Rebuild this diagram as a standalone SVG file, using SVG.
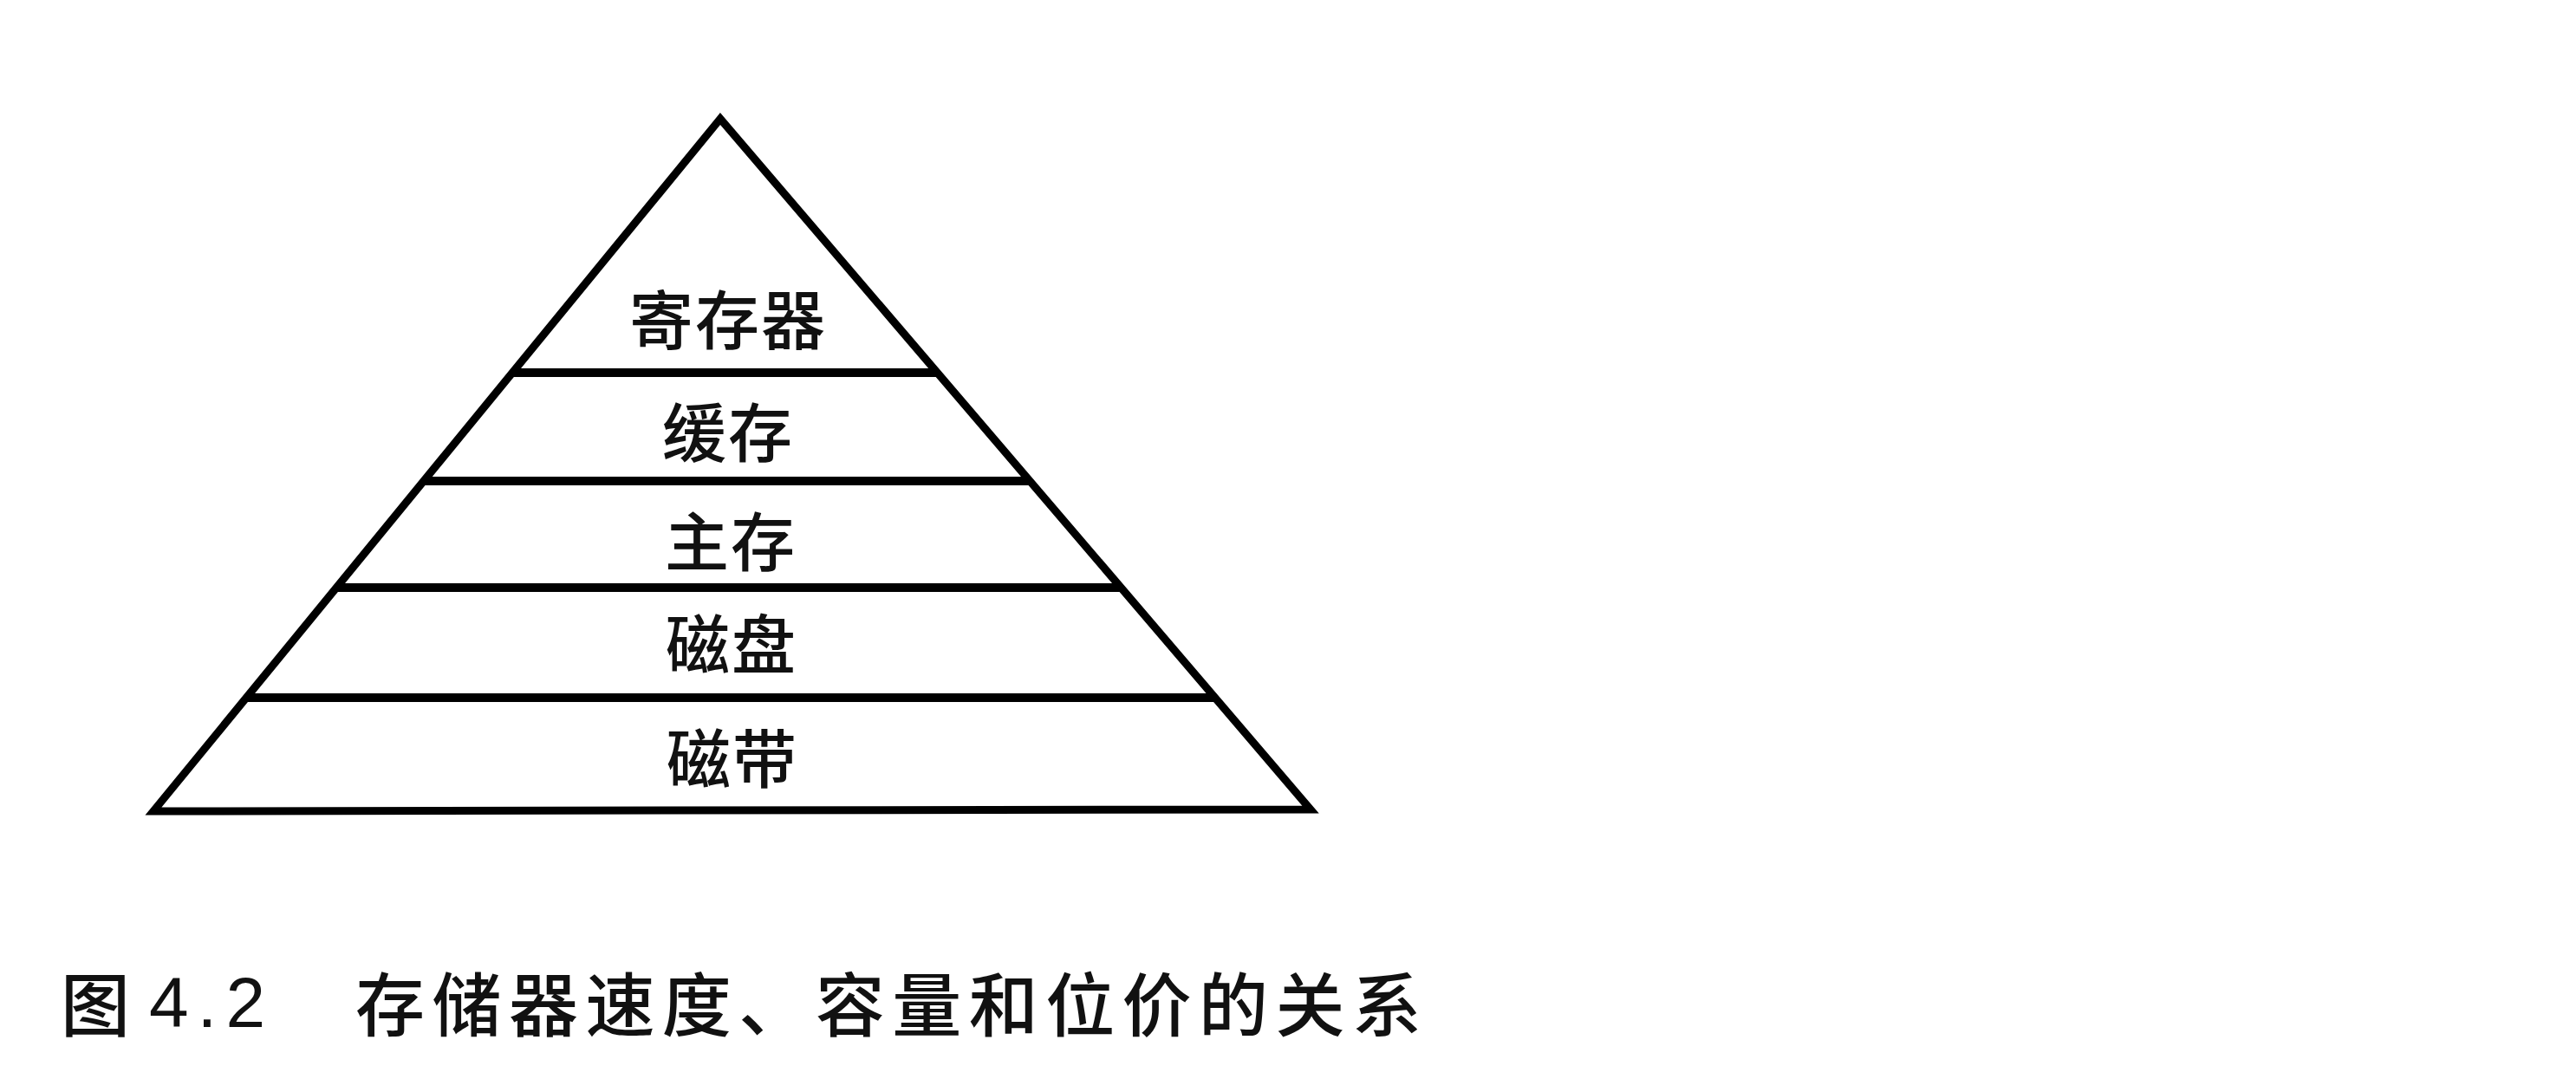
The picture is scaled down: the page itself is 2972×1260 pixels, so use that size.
<svg xmlns="http://www.w3.org/2000/svg" width="2972" height="1260" viewBox="0 0 2972 1260">
<style>
.edge{stroke:#000;stroke-width:9;fill:none;stroke-linejoin:miter;stroke-linecap:square}
.bar{stroke:#000;stroke-width:10;fill:none;stroke-linecap:butt}
.lbl{font-family:"Noto Sans CJK SC","Noto Sans",sans-serif;font-size:74px;font-weight:500;fill:#111;text-anchor:middle;dominant-baseline:central;letter-spacing:2px}
.cap{font-family:"Noto Sans CJK SC","Noto Sans",sans-serif;font-size:80px;font-weight:500;fill:#111;dominant-baseline:central}
.num{font-family:"Liberation Sans","Noto Sans",sans-serif;font-size:82px;fill:#111;dominant-baseline:central}
</style>
<rect width="2972" height="1260" fill="#fff"/>
<g id="pyramid">
<polygon class="edge" points="831,137 177,936 1512,934"/>
</g>
<g id="connectors">
<line class="bar" x1="590" y1="430" x2="1082" y2="430"/>
<line class="bar" x1="488" y1="555" x2="1189" y2="555"/>
<line class="bar" x1="387" y1="678" x2="1294" y2="678"/>
<line class="bar" x1="283" y1="805" x2="1403" y2="805"/>
</g>
<g id="node-register"><text class="lbl" x="840" y="364">寄存器</text></g>
<g id="node-cache"><text class="lbl" x="840" y="494">缓存</text></g>
<g id="node-main"><text class="lbl" x="843" y="620">主存</text></g>
<g id="node-disk"><text class="lbl" x="844" y="738">磁盘</text></g>
<g id="node-tape"><text class="lbl" x="845" y="870">磁带</text></g>
<g id="caption">
<text class="cap" x="70" y="1154">图</text>
<text class="num" x="172" y="1156" textLength="134" lengthAdjust="spacing">4.2</text>
<text class="cap" x="410" y="1154" textLength="1230" lengthAdjust="spacing">存储器速度、容量和位价的关系</text>
</g>
</svg>
